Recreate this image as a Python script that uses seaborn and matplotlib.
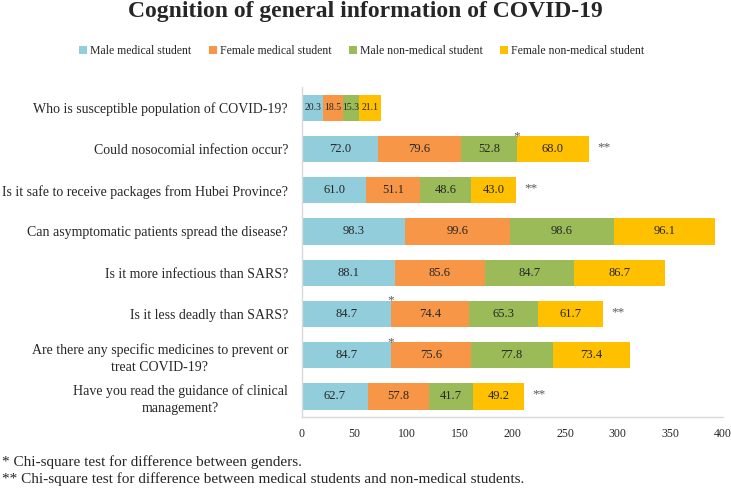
import matplotlib
matplotlib.use("Agg")
import matplotlib.pyplot as plt
import seaborn as sns
import pandas as pd
import numpy as np
from matplotlib.lines import Line2D

# Data (percent answering correctly, per group)
questions = [
    'Who is susceptible population of COVID-19?',
    'Could nosocomial infection occur?',
    'Is it safe to receive packages from Hubei Province?',
    'Can asymptomatic patients spread the disease?',
    'Is it more infectious than SARS?',
    'Is it less deadly than SARS?',
    'Are there any specific medicines to prevent or\ntreat COVID-19?',
    'Have you read the guidance of clinical\nmanagement?',
]
groups = ['Male medical student', 'Female medical student',
          'Male non-medical student', 'Female non-medical student']
male_med = [20.3, 72.0, 61.0, 98.3, 88.1, 84.7, 84.7, 62.7]
female_med = [18.5, 79.6, 51.1, 99.6, 85.6, 74.4, 75.6, 57.8]
male_nonmed = [15.3, 52.8, 48.6, 98.6, 84.7, 65.3, 77.8, 41.7]
female_nonmed = [21.1, 68.0, 43.0, 96.1, 86.7, 61.7, 73.4, 49.2]
# significance marks: gender (*) placed after a series, group (**) at bar end
gender_sig = [None, 2, None, None, None, 0, 0, None]
group_sig = [False, True, True, False, False, True, False, True]

colors = ['#92CDDC', '#F79646', '#9BBB59', '#FFC000']

df = pd.DataFrame({'question': questions, groups[0]: male_med, groups[1]: female_med,
                   groups[2]: male_nonmed, groups[3]: female_nonmed})
vals = df[groups].to_numpy()
cum = np.cumsum(vals, axis=1)

sns.set_style('white')
plt.rcParams['font.family'] = ['Liberation Serif', 'DejaVu Serif']

fig, ax = plt.subplots(figsize=(7.31, 4.90), dpi=100)
fig.subplots_adjust(left=0.413, right=0.989, bottom=0.149, top=0.822)

# draw stacked bars: cumulative totals from back to front
for i in range(3, -1, -1):
    d = pd.DataFrame({'question': questions, 'total': cum[:, i]})
    sns.barplot(data=d, x='total', y='question', orient='h', color=colors[i],
                width=0.64, saturation=1, ax=ax, linewidth=0)

# value labels
for r in range(len(questions)):
    fs = 7 if cum[r, 3] < 100 else 9
    for i in range(4):
        start = cum[r, i] - vals[r, i]
        ax.text(start + vals[r, i] / 2, r, f'{vals[r, i]:.1f}', ha='center', va='center',
                fontsize=fs, color='#262626')
    if group_sig[r]:
        ax.text(cum[r, 3] + 8, r - 0.05, '**', ha='left', va='center', fontsize=9.5, color='#595959')
    if gender_sig[r] is not None:
        ax.text(cum[r, gender_sig[r]], r - 0.32, '*', ha='center', va='center',
                fontsize=9.5, color='#595959')

ax.set_xlim(0, 400)
ax.set_xticks(range(0, 401, 50))
ax.set_xlabel('')
ax.set_ylabel('')
ax.tick_params(axis='x', labelsize=8.5, length=0, pad=8)
ax.tick_params(axis='y', labelsize=10, length=0, pad=10)
for lab in ax.get_yticklabels():
    lab.set_multialignment('center')
    lab.set_linespacing(1.35)
for s in ['top', 'right']:
    ax.spines[s].set_visible(False)
ax.spines['left'].set_color('#D9D9D9')
ax.spines['bottom'].set_color('#D9D9D9')
ax.spines['left'].set_linewidth(1)
ax.spines['bottom'].set_linewidth(1)

fig.suptitle('Cognition of general information of COVID-19', fontsize=17,
             fontweight='bold', y=0.998, va='top')

handles = [Line2D([0], [0], marker='s', linestyle='', markersize=5.5,
                  markerfacecolor=c, markeredgewidth=0) for c in colors]
fig.legend(handles, groups, loc='center', bbox_to_anchor=(0.495, 0.896), ncol=4,
           frameon=False, fontsize=8.5, handlelength=0.6, handletextpad=0.3,
           columnspacing=1.5)

fig.text(0.003, 0.048, '* Chi-square test for difference between genders.', fontsize=11)
fig.text(0.003, 0.014, '** Chi-square test for difference between medical students and non-medical students.',
         fontsize=11)

plt.savefig('out.png', dpi=100)
